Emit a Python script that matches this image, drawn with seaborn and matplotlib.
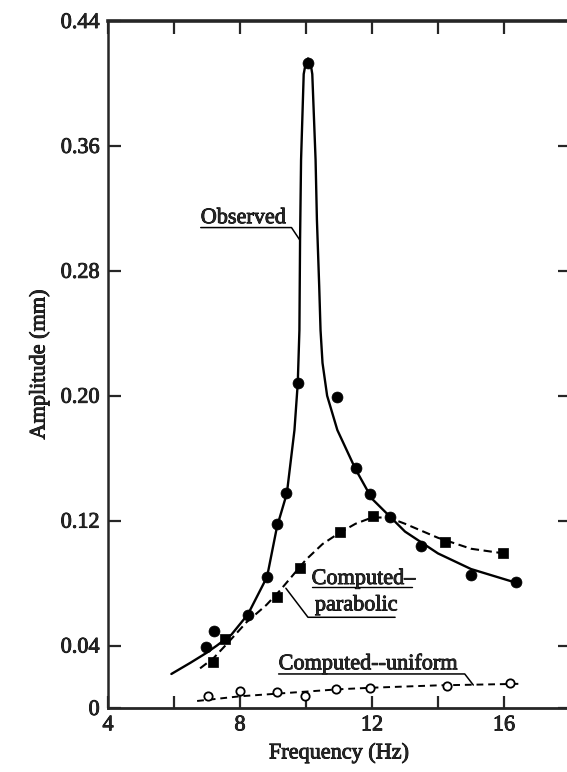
import numpy as np
import pandas as pd
import seaborn as sns
import matplotlib.pyplot as plt
import matplotlib.patheffects as pe

# measured points
obs_freq = [6.96, 7.20, 8.24, 8.82, 9.12, 9.38, 9.75, 10.06, 10.95, 11.50, 11.94, 12.55, 13.49, 15.00, 16.37]
obs_amp = [0.039, 0.0495, 0.0596, 0.0837, 0.118, 0.138, 0.208, 0.413, 0.199, 0.1535, 0.137, 0.1225, 0.104, 0.085, 0.081]

par_freq = [7.19, 7.55, 9.12, 9.83, 11.03, 12.04, 14.22, 15.98]
par_amp = [0.0297, 0.044, 0.0709, 0.0897, 0.113, 0.123, 0.106, 0.099]

uni_freq = [7.03, 7.99, 9.12, 9.98, 10.92, 11.93, 14.28, 16.17]
uni_amp = [0.0075, 0.011, 0.010, 0.008, 0.012, 0.013, 0.014, 0.016]

# curves
obs_line_freq = [5.92, 6.5, 6.96, 7.3, 7.74, 8.24, 8.82, 9.12, 9.42, 9.65, 9.75, 9.80, 9.82, 9.85,
                 9.93, 10.0, 10.06, 10.13, 10.19, 10.29, 10.33, 10.40, 10.44, 10.50, 10.64, 10.95,
                 11.5, 12.0, 13.0, 14.0, 15.0, 16.4]
obs_line_amp = [0.0218, 0.029, 0.035, 0.040, 0.047, 0.060, 0.084, 0.116, 0.1375, 0.178, 0.208, 0.242,
                0.30, 0.351, 0.406, 0.414, 0.416, 0.414, 0.406, 0.351, 0.313, 0.27, 0.242, 0.221,
                0.20, 0.178, 0.153, 0.134, 0.113, 0.099, 0.089, 0.080]

par_line_freq = [6.79, 7.2, 7.6, 8.2, 8.8, 9.2, 9.6, 10.0, 10.5, 11.0, 11.5, 12.0, 12.5, 13.0, 14.0, 15.0, 16.0]
par_line_amp = [0.0254, 0.032, 0.041, 0.055, 0.066, 0.075, 0.085, 0.095, 0.105, 0.112, 0.118, 0.122,
                0.122, 0.118, 0.109, 0.102, 0.099]

uni_line_freq = [6.7, 8.0, 9.0, 10.0, 11.0, 12.0, 14.0, 16.5]
uni_line_amp = [0.0045, 0.0075, 0.009, 0.0105, 0.012, 0.013, 0.0145, 0.0155]

ytick_vals = [0, 0.04, 0.12, 0.20, 0.28, 0.36, 0.44]
ytick_labels = ['0', '0.04', '0.12', '0.20', '0.28', '0.36', '0.44']
xtick_vals = [4, 8, 12, 16]
xminor_vals = [6, 10, 14]

sns.set_style('ticks')
plt.rcParams['font.family'] = ['Liberation Serif', 'DejaVu Serif']

fig = plt.figure(figsize=(5.67, 7.72), dpi=100)
ax = fig.add_axes([0.1905, 0.0829, 0.8148, 0.8899])

sns.lineplot(x=obs_line_freq, y=obs_line_amp, sort=False, estimator=None, color='black', lw=1.7, ax=ax)
sns.lineplot(x=par_line_freq, y=par_line_amp, sort=False, estimator=None, color='black', lw=1.5,
             ax=ax).lines[-1].set_dashes((4, 2.2))
sns.lineplot(x=uni_line_freq, y=uni_line_amp, sort=False, estimator=None, color='black', lw=1.4,
             ax=ax).lines[-1].set_dashes((3.5, 2.5))

sns.scatterplot(x=obs_freq, y=obs_amp, marker='o', s=62, color='black', edgecolor='black', linewidth=0.5, ax=ax, zorder=5)
sns.scatterplot(x=par_freq, y=par_amp, marker='s', s=44, color='black', edgecolor='black', linewidth=0.5, ax=ax, zorder=5)
sns.scatterplot(x=uni_freq, y=uni_amp, marker='o', s=36, facecolor='white', edgecolor='black', linewidth=1.3, ax=ax, zorder=5)

thick = [pe.withStroke(linewidth=0.6, foreground='black')]

# labels with underline and leader line
ax.text(6.81, 0.3105, 'Observed', fontsize=16, va='baseline', path_effects=thick)
ax.plot([6.81, 9.56, 9.81], [0.3077, 0.3077, 0.2998], color='black', lw=1.1)

ax.text(10.17, 0.0794, 'Computed\u2013', fontsize=16, va='baseline', path_effects=thick)
ax.plot([10.17, 13.2], [0.0772, 0.0772], color='black', lw=1.0)
ax.text(10.27, 0.0625, 'parabolic', fontsize=16, va='baseline', path_effects=thick)
ax.plot([9.39, 10.06, 12.70], [0.0767, 0.0581, 0.0581], color='black', lw=1.1)

ax.text(9.17, 0.0248, 'Computed--uniform', fontsize=16, va='baseline', path_effects=thick)
ax.plot([9.17, 14.81, 15.07], [0.0218, 0.0218, 0.0147], color='black', lw=1.1)

ax.set_xlim(4, 18)
ax.set_ylim(0, 0.44)
ax.set_yticks(ytick_vals)
ax.set_yticklabels(ytick_labels)
ax.set_xticks(xtick_vals)
ax.set_xticks(xminor_vals, minor=True)
ax.tick_params(which='both', direction='in', top=True, right=True, length=9, width=1.6,
               labelsize=16, pad=6)
for lab in ax.get_xticklabels() + ax.get_yticklabels():
    lab.set_path_effects(thick)

for side, w in [('top', 2.6), ('bottom', 2.0), ('left', 1.8), ('right', 1.8)]:
    ax.spines[side].set_linewidth(w)

ax.set_xlabel('Frequency (Hz)', fontsize=16, labelpad=6, path_effects=thick)
ax.set_ylabel('Amplitude (mm)', fontsize=16, labelpad=8, path_effects=thick)

fig.savefig('out.png', dpi=100)
